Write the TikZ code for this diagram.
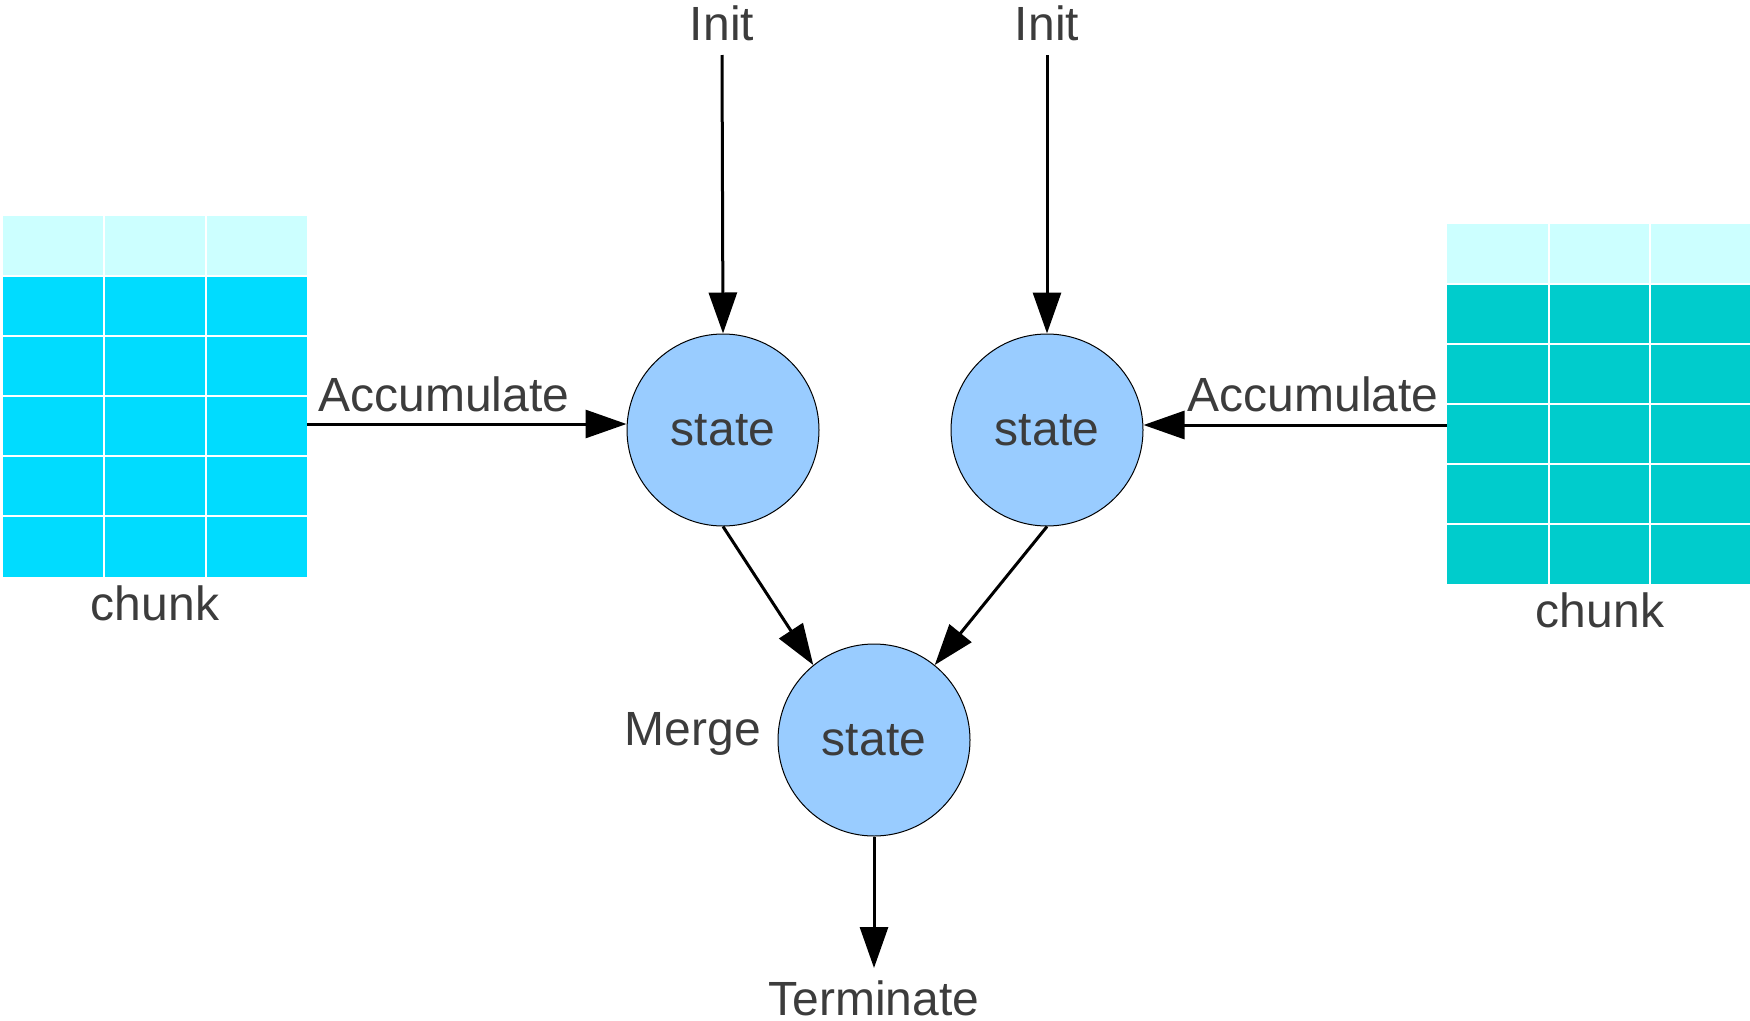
\documentclass[tikz,border=0pt]{standalone}
\usepackage{fontspec}
\setmainfont{Liberation Sans}
\usetikzlibrary{arrows.meta}
\definecolor{txt}{HTML}{3C3C3C}
\definecolor{statefill}{HTML}{99CCFF}
\definecolor{hdrfill}{HTML}{CCFFFF}
\definecolor{chunkA}{HTML}{00DCFF}
\definecolor{chunkB}{HTML}{00CCCC}
\tikzset{
  lbl/.style={text=txt, font=\fontsize{48}{58}\selectfont, inner sep=0pt},
  statenode/.style={circle, draw=black, line width=1pt, fill=statefill,
    minimum size=192pt, inner sep=0pt, text=txt, font=\fontsize{48}{58}\selectfont},
  flow/.style={line width=3pt, -{Triangle[length=41pt,width=28pt]}},
  gridline/.style={white, line width=1.5pt},
}
\begin{document}
\begin{tikzpicture}[x=1pt,y=-1pt]
\useasboundingbox (0,0) rectangle (1750,1020);

% left data chunk
\fill[hdrfill] (3,216) rectangle (307,276);
\fill[chunkA] (3,276) rectangle (307,577);
\foreach \x in {104,206} \draw[gridline] (\x,216) -- (\x,577);
\foreach \y in {276,336,396,456,516} \draw[gridline] (3,\y) -- (307,\y);
\node[lbl] (chunkL) at (155,603) {chunk};
\coordinate (outL) at (307,424);

% right data chunk
\fill[hdrfill] (1447,224) rectangle (1750,284);
\fill[chunkB] (1447,284) rectangle (1750,584);
\foreach \x in {1549,1650} \draw[gridline] (\x,224) -- (\x,584);
\foreach \y in {284,344,404,464,524} \draw[gridline] (1447,\y) -- (1750,\y);
\node[lbl] (chunkR) at (1600,610) {chunk};
\coordinate (outR) at (1447,425);

% states
\node[statenode] (s1) at (723,430) {state};
\node[statenode] (s2) at (1047,430) {state};
\node[statenode] (s3) at (874,740) {state};

% labels
\node[lbl] (init1) at (722,23) {Init};
\node[lbl] (init2) at (1047,23) {Init};
\coordinate (i1) at (722,55);
\coordinate (i2) at (1047,55);
\node[lbl] (accL) at (444,394) {Accumulate};
\node[lbl] (accR) at (1313,394) {Accumulate};
\node[lbl] (merge) at (693,734) {Merge};
\node[lbl] (term) at (874,998) {Terminate};
\coordinate (t1) at (874,968);

% connectors
\draw[flow] (i1) -- (s1.north);
\draw[flow] (i2) -- (s2.north);
\draw[flow] (outL) -- (s1.west |- outL);
\draw[flow] (outR) -- (s2.east |- outR);
\draw[flow] (s1.south) -- (s3.129);
\draw[flow] (s2.south) -- (s3.51);
\draw[flow] (s3.south) -- (t1);
\end{tikzpicture}
\end{document}
